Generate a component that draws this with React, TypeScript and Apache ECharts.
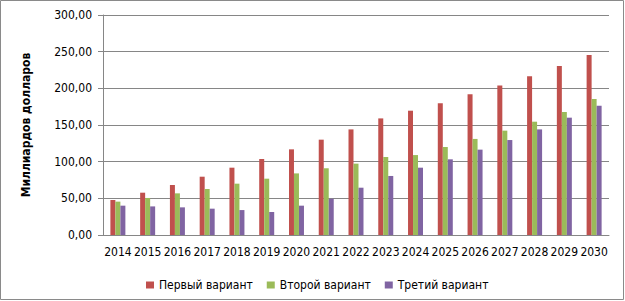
import React, { useEffect, useRef } from "react";
import * as echarts from "echarts";

const years = ["2014","2015","2016","2017","2018","2019","2020","2021","2022","2023","2024","2025","2026","2027","2028","2029","2030"];
const first = [47.7, 57.7, 68.2, 79.5, 91.8, 103.6, 116.8, 130, 144, 159, 169.5, 179.5, 191.8, 204, 216.4, 230.5, 245.5];
const second = [45.5, 50.5, 56.8, 62.7, 70, 76.8, 84, 91, 97.3, 106.4, 109, 120, 131, 142.3, 154.5, 167.7, 185.5];
const third = [40, 39, 37.7, 35.9, 34, 31.4, 40, 49.5, 64.5, 80.5, 91.8, 103.2, 116.4, 129.5, 144, 160, 176.4];
const seriesNames = ["Первый вариант", "Второй вариант", "Третий вариант"];
const colors = ["#C0504D", "#9BBB59", "#8064A2"];

const FONT = "'Liberation Sans Narrow', 'DejaVu Sans Condensed', 'Liberation Sans', sans-serif";

export default function App() {
  const ref = useRef<HTMLDivElement>(null);
  useEffect(() => {
    document.body.style.margin = "0";
    const chart = echarts.init(ref.current!, undefined, { renderer: "svg" });
    const data = [first, second, third];
    chart.setOption({
      animation: false,
      backgroundColor: "#ffffff",
      textStyle: { fontFamily: FONT },
      graphic: [
        {
          type: "rect",
          shape: { x: 0.5, y: 0.5, width: 623, height: 299 },
          style: { fill: "none", stroke: "#8a8a8a", lineWidth: 1 },
          silent: true,
        },
      ],
      grid: { left: 103, right: 16, top: 15, bottom: 66 },
      legend: {
        top: 274,
        left: 141,
        itemWidth: 8,
        itemHeight: 7,
        itemGap: 14,
        icon: "rect",
        textStyle: { fontFamily: FONT, fontSize: 12, color: "#000" },
        data: seriesNames,
      },
      xAxis: {
        type: "category",
        data: years,
        axisLine: { lineStyle: { color: "#868686" } },
        axisTick: { show: false },
        axisLabel: { color: "#000", fontSize: 12, fontFamily: FONT, margin: 11, interval: 0 },
      },
      yAxis: {
        type: "value",
        min: 0,
        max: 300,
        interval: 50,
        name: "Миллиардов долларов",
        nameLocation: "middle",
        nameGap: 71,
        nameRotate: 90,
        nameTextStyle: { fontWeight: "bold", fontSize: 12, color: "#000", fontFamily: FONT },
        axisLine: { show: true, lineStyle: { color: "#868686" } },
        axisTick: { show: true, length: 5, lineStyle: { color: "#868686" } },
        splitLine: { lineStyle: { color: "#868686", width: 1 } },
        axisLabel: {
          color: "#000",
          fontSize: 12,
          fontFamily: FONT,
          margin: 11,
          formatter: (v: number) => v.toFixed(2).replace(".", ","),
        },
      },
      series: seriesNames.map((name, i) => ({
        name,
        type: "bar",
        data: data[i],
        barWidth: 5,
        barGap: "0%",
        itemStyle: { color: colors[i] },
      })),
    });
    return () => chart.dispose();
  }, []);
  return <div ref={ref} style={{ width: 625, height: 301 }} />;
}
